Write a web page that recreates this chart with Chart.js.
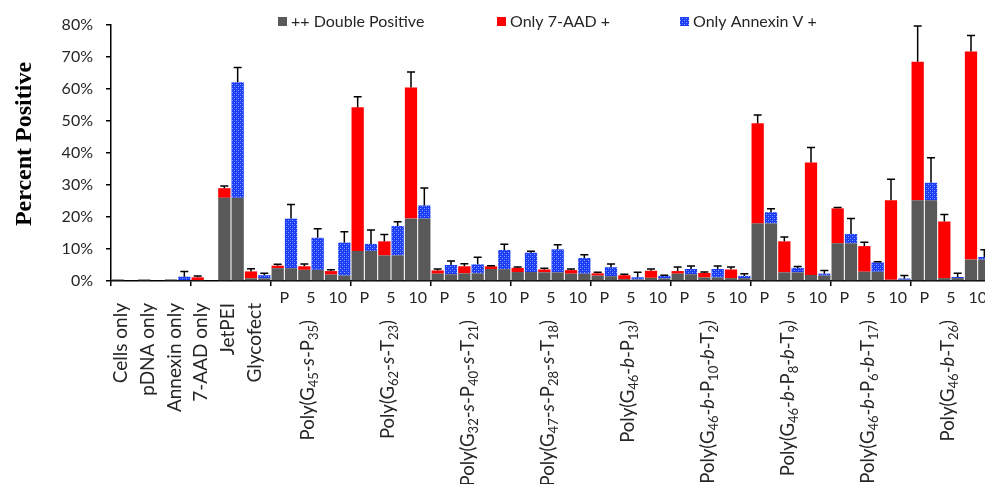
<!DOCTYPE html>
<html>
<head>
<meta charset="utf-8">
<script src="https://cdn.jsdelivr.net/npm/chart.js@4.4.1/dist/chart.umd.min.js"></script>
<style>
  html, body { margin: 0; padding: 0; background: #fff; overflow: hidden; }
  #wrap { width: 985px; height: 484px; overflow: hidden; }
</style>
</head>
<body>
<div id="wrap"><canvas id="chart" width="991" height="484"></canvas></div>
<script>
const controls = ['Cells only', 'pDNA only', 'Annexin only', '7-AAD only', 'JetPEI', 'Glycofect'];
// _{..} = subscript, *..* = italic
const polymers = [
    'Poly(G_{45}-*s*-P_{35})',
    'Poly(G_{62}-*s*-T_{23})',
    'Poly(G_{32}-*s*-P_{40}-*s*-T_{21})',
    'Poly(G_{47}-*s*-P_{28}-*s*-T_{18})',
    'Poly(G_{46}-*b*-P_{13})',
    'Poly(G_{46}-*b*-P_{10}-*b*-T_{2})',
    'Poly(G_{46}-*b*-P_{8}-*b*-T_{9})',
    'Poly(G_{46}-*b*-P_{6}-*b*-T_{17})',
    'Poly(G_{46}-*b*-T_{26})'
];
const doses = ['P', '5', '10'];
const yTicks = [0, 10, 20, 30, 40, 50, 60, 70, 80];

// one value per condition: 6 controls, then each polymer at P, 5, 10
const doublePos7AAD = [0.5, 0.5, 0.5, 0.3, 26.0, 0.85,
    4.0, 3.5, 2.0, 9.4, 8.0, 19.5, 2.3, 2.4, 3.75,
    2.8, 2.7, 2.3, 1.7, 0.6, 1.0, 2.3, 1.1, 0.9,
    18.0, 2.7, 1.9, 11.8, 2.9, 0.4, 25.2, 0.9, 6.7];
const only7AAD = [0, 0, 0, 0.85, 3.0, 2.15,
    0.8, 1.1, 1.1, 44.9, 4.4, 41.0, 1.0, 2.2, 0.85,
    1.3, 0.9, 1.1, 0.7, 1.2, 2.2, 0.8, 1.4, 2.7,
    31.3, 9.7, 35.1, 10.9, 8.0, 24.8, 43.3, 17.7, 65.0];
const sd7AAD = [0, 0, 0, 0.4, 0.7, 0.8,
    0.4, 0.7, 0.4, 3.3, 2.1, 4.8, 0.45, 0.8, 0.2,
    0.3, 0.4, 0.35, 0.3, 0.3, 0.55, 1.3, 0.3, 0.8,
    2.6, 1.35, 4.7, 0.3, 1.2, 6.6, 11.2, 2.2, 5.0];
const doublePosAnnexin = [0, 0, 0.3, 0, 26.0, 0.85,
    4.0, 3.5, 1.7, 9.4, 8.0, 19.5, 2.1, 2.4, 3.7,
    2.8, 2.7, 2.3, 1.5, 0.5, 0.8, 2.1, 1.1, 0.9,
    18.0, 2.7, 1.7, 11.8, 2.9, 0.4, 25.2, 0.9, 6.7];
const onlyAnnexin = [0, 0, 1.05, 0, 36.1, 0.95,
    15.5, 10.0, 10.3, 2.2, 9.2, 4.1, 2.9, 2.8, 6.0,
    6.05, 7.2, 4.9, 2.8, 0.65, 0.8, 1.65, 2.65, 0.7,
    3.5, 1.4, 0.6, 2.9, 2.9, 0.4, 5.5, 0.35, 0.8];
const sdAnnexin = [0, 0, 1.65, 0, 4.6, 0.6,
    4.4, 2.8, 3.4, 4.3, 1.3, 5.5, 1.25, 2.2, 1.8,
    0.45, 1.45, 1.0, 1.0, 1.55, 0.2, 0.95, 0.95, 0.7,
    1.1, 0.4, 1.0, 4.8, 0.2, 0.9, 7.8, 1.15, 2.3];

const FONT = 'Lato';
const TEXT = '#262626';
Chart.defaults.font.family = FONT;

// two bars per condition: gray + red, then gray + blue
const conditionNames = controls.concat(polymers.flatMap(p => doses.map(d => p + ' ' + d)));
const slotLabels = [], grayData = [], redData = [], blueData = [], errData = [];
conditionNames.forEach((name, i) => {
    slotLabels.push(name + ' 7-AAD', name + ' Annexin V');
    grayData.push(doublePos7AAD[i], doublePosAnnexin[i]);
    redData.push(only7AAD[i], null);
    blueData.push(null, onlyAnnexin[i]);
    errData.push(sd7AAD[i], sdAnnexin[i]);
});

function makeBluePattern() {
    const c = document.createElement('canvas');
    c.width = 4; c.height = 4;
    const g = c.getContext('2d');
    g.fillStyle = '#1a3cf6';
    g.fillRect(0, 0, 4, 4);
    g.fillStyle = '#93a9ff';
    g.fillRect(0, 0, 1, 1);
    g.fillRect(2, 2, 1, 1);
    g.fillStyle = '#3b5cff';
    g.fillRect(2, 0, 1, 1);
    g.fillRect(0, 2, 1, 1);
    return g.createPattern(c, 'repeat');
}
const bluePattern = makeBluePattern();

function parseRich(str) {
    const parts = [];
    const re = /_\{([^}]*)\}|\*([^*]*)\*|([^_*]+)/g;
    let m;
    while ((m = re.exec(str))) {
        if (m[1] !== undefined) parts.push({ t: m[1], sub: true });
        else if (m[2] !== undefined) parts.push({ t: m[2], it: true });
        else parts.push({ t: m[3] });
    }
    return parts;
}

// draws right-aligned at the origin, in the current transform
function drawRich(ctx, str, size) {
    const parts = parseRich(str);
    const fontOf = p => (p.it ? 'italic ' : '') + (p.sub ? Math.round(size * 0.68) : size) + 'px ' + FONT;
    let total = 0;
    parts.forEach(p => { ctx.font = fontOf(p); p.w = ctx.measureText(p.t).width; total += p.w; });
    let x = -total;
    ctx.textAlign = 'left';
    parts.forEach(p => {
        ctx.font = fontOf(p);
        ctx.fillText(p.t, x, p.sub ? size * 0.3 : 0);
        x += p.w;
    });
}

const extras = {
    id: 'extras',
    afterDatasetsDraw(chart) {
        const ctx = chart.ctx, xs = chart.scales.x, ys = chart.scales.y;
        ctx.save();
        ctx.strokeStyle = '#000';
        ctx.lineWidth = 1.5;
        errData.forEach((err, j) => {
            if (!err) return;
            const top = grayData[j] + (redData[j] || 0) + (blueData[j] || 0);
            const x = xs.getPixelForValue(j);
            const y0 = ys.getPixelForValue(top), y1 = ys.getPixelForValue(top + err);
            ctx.beginPath();
            ctx.moveTo(x, y0); ctx.lineTo(x, y1);
            ctx.moveTo(x - 4, y1); ctx.lineTo(x + 4, y1);
            ctx.stroke();
        });
        ctx.restore();
    },
    afterDraw(chart) {
        const ctx = chart.ctx, xs = chart.scales.x;
        ctx.save();
        ctx.fillStyle = TEXT;

        // legend
        const legend = [
            ['++ Double Positive', '#595959', 278],
            ['Only 7-AAD +', '#ff0000', 497],
            ['Only Annexin V +', bluePattern, 680]
        ];
        ctx.font = '16px ' + FONT;
        ctx.textBaseline = 'alphabetic';
        ctx.textAlign = 'left';
        legend.forEach(([txt, col, x]) => {
            ctx.fillStyle = col;
            ctx.fillRect(x, 17, 9, 9);
            ctx.fillStyle = TEXT;
            ctx.fillText(txt, x + 13, 27);
        });

        // y title
        ctx.save();
        ctx.translate(31, 144);
        ctx.rotate(-Math.PI / 2);
        ctx.font = 'bold 24px "Liberation Serif"';
        ctx.textAlign = 'center';
        ctx.fillStyle = '#000';
        ctx.fillText('Percent Positive', 0, 0);
        ctx.restore();

        const pairCenter = i => (xs.getPixelForValue(2 * i) + xs.getPixelForValue(2 * i + 1)) / 2;

        // dose labels
        ctx.font = '16px ' + FONT;
        ctx.textAlign = 'center';
        for (let i = controls.length; i < conditionNames.length; i++) {
            ctx.fillText(doses[(i - controls.length) % 3], pairCenter(i), 303);
        }

        // control names
        ctx.textBaseline = 'middle';
        controls.forEach((name, i) => {
            ctx.save();
            ctx.translate(pairCenter(i) - 3, 303);
            ctx.rotate(-Math.PI / 2);
            ctx.font = '19px ' + FONT;
            ctx.textAlign = 'right';
            ctx.fillText(name, 0, 0);
            ctx.restore();
        });

        // polymer names
        polymers.forEach((name, g) => {
            const first = controls.length + g * 3;
            const cx = (pairCenter(first) + pairCenter(first + 2)) / 2;
            ctx.save();
            ctx.translate(cx - 3, 320);
            ctx.rotate(-Math.PI / 2);
            drawRich(ctx, name, 18.5);
            ctx.restore();
        });
        ctx.restore();
    }
};

new Chart(document.getElementById('chart'), {
    type: 'bar',
    data: {
        labels: slotLabels,
        datasets: [
            { label: '++ Double Positive', data: grayData, backgroundColor: '#595959' },
            { label: 'Only 7-AAD +', data: redData, backgroundColor: '#ff0000' },
            { label: 'Only Annexin V +', data: blueData, backgroundColor: bluePattern }
        ]
    },
    options: {
        responsive: false,
        animation: false,
        devicePixelRatio: 1,
        layout: { padding: { top: 25, right: 0, bottom: 0, left: 0 } },
        datasets: { bar: { categoryPercentage: 1, barPercentage: 0.92, borderWidth: 0 } },
        plugins: { legend: { display: false }, tooltip: { enabled: false } },
        scales: {
            x: {
                stacked: true,
                offset: true,
                ticks: { display: false, autoSkip: false },
                grid: {
                    offset: true,
                    drawOnChartArea: false,
                    drawTicks: true,
                    tickLength: 5,
                    lineWidth: 1.5,
                    color: ctx => (ctx.index % 6 === 0 ? '#000' : 'rgba(0,0,0,0)')
                },
                border: { display: true, color: '#000', width: 1.5 },
                afterFit: s => { s.height = 203; }
            },
            y: {
                stacked: true,
                min: 0,
                max: 80,
                afterBuildTicks: s => { s.ticks = yTicks.map(v => ({ value: v })); },
                ticks: {
                    callback: v => v + '%',
                    font: { size: 16 },
                    color: TEXT,
                    padding: 13
                },
                grid: { drawOnChartArea: false, drawTicks: true, tickLength: 5, color: '#000', lineWidth: 1.5 },
                border: { display: true, color: '#000', width: 1.5 },
                afterFit: s => { s.width = 111; }
            }
        }
    },
    plugins: [extras]
});
</script>
</body>
</html>
